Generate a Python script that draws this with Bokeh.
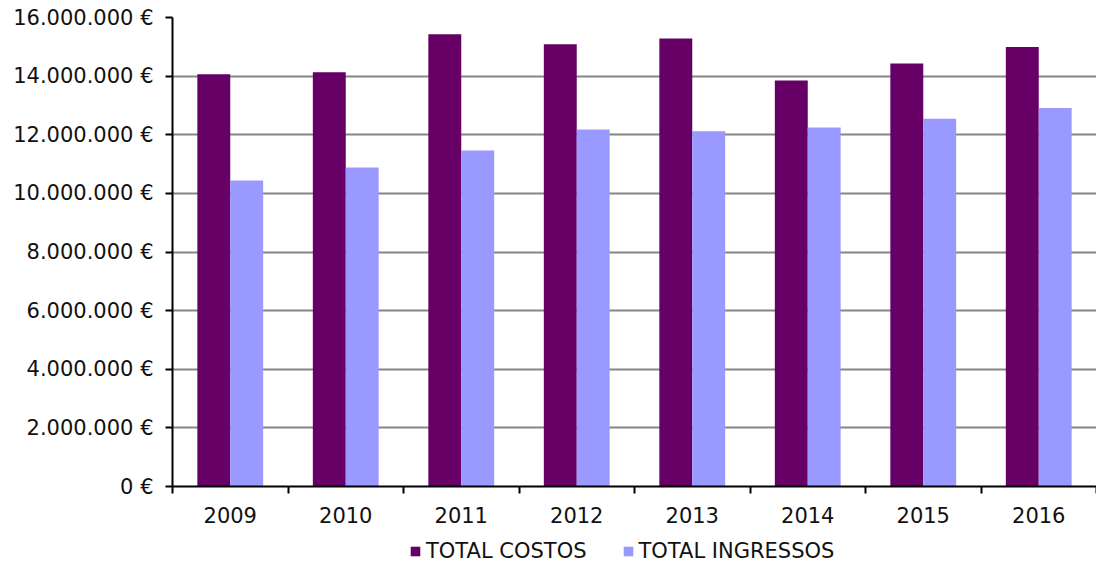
from bokeh.plotting import figure
from bokeh.layouts import column
from bokeh.models import (ColumnDataSource, FixedTicker, CustomJSTickFormatter, Legend,
                          LegendItem, Range1d)
from bokeh.transform import dodge
from bokeh.embed import file_html
from bokeh.resources import INLINE

years = ["2009", "2010", "2011", "2012", "2013", "2014", "2015", "2016"]
costos = [14060000, 14130000, 15430000, 15090000, 15280000, 13850000, 14430000, 14990000]
ingressos = [10440000, 10880000, 11460000, 12180000, 12120000, 12250000, 12550000, 12910000]
series_names = ["TOTAL COSTOS", "TOTAL INGRESSOS"]
colors = ["#660066", "#9999FF"]
y_ticks = [0, 2000000, 4000000, 6000000, 8000000, 10000000, 12000000, 14000000, 16000000]

FONT = "DejaVu Sans"
FS = "21px"
n = len(years)
centers = [i + 0.5 for i in range(n)]
bounds = [float(i) for i in range(n + 1)]

src = ColumnDataSource(dict(x=centers, year=years, costos=costos, ingressos=ingressos))

p = figure(width=1096, height=538, output_backend="svg", toolbar_location=None,
           x_range=Range1d(0, n), y_range=Range1d(0, 16000000),
           min_border_left=172, min_border_right=0, min_border_top=17, min_border_bottom=52)
p.outline_line_color = None
p.background_fill_color = "white"
p.border_fill_color = "white"

bw = 0.285
p.vbar(x=dodge("x", -bw / 2), top="costos", width=bw, source=src,
       fill_color=colors[0], line_color=None)
p.vbar(x=dodge("x", bw / 2), top="ingressos", width=bw, source=src,
       fill_color=colors[1], line_color=None)

# grid
p.xgrid.grid_line_color = None
p.ygrid.grid_line_color = "#868686"
p.ygrid.grid_line_width = 2
p.ygrid.ticker = FixedTicker(ticks=y_ticks)

# y axis
ya = p.yaxis[0]
ya.ticker = FixedTicker(ticks=y_ticks)
ya.formatter = CustomJSTickFormatter(code="""
return Math.round(tick).toString().replace(/\\B(?=(\\d{3})+(?!\\d))/g, '.') + ' \u20ac';
""")
ya.axis_line_color = "black"
ya.axis_line_width = 2
ya.major_tick_out = 7
ya.major_tick_in = 0
ya.major_tick_line_width = 2
ya.minor_tick_line_color = None
ya.major_label_text_font = FONT
ya.major_label_text_font_size = FS
ya.major_label_text_color = "#111111"
ya.major_label_standoff = 12

# x axis
xa = p.xaxis[0]
xa.ticker = FixedTicker(ticks=centers, minor_ticks=bounds)
xa.formatter = CustomJSTickFormatter(args=dict(labels=years),
                                     code="return labels[Math.floor(tick)];")
xa.axis_line_color = "black"
xa.axis_line_width = 2
xa.major_tick_out = 0
xa.major_tick_in = 0
xa.minor_tick_out = 7
xa.minor_tick_in = 0
xa.minor_tick_line_width = 2
xa.minor_tick_line_color = "black"
xa.major_label_text_font = FONT
xa.major_label_text_font_size = FS
xa.major_label_text_color = "#111111"
xa.major_label_standoff = 13

# legend strip (hidden renderers; only the legend is shown)
p2 = figure(width=1096, height=25, output_backend="svg", toolbar_location=None,
            x_range=Range1d(0, n), y_range=Range1d(0, 16000000),
            min_border_left=0, min_border_right=0, min_border_top=0, min_border_bottom=0)
p2.axis.visible = False
p2.grid.grid_line_color = None
p2.outline_line_color = None
lr1 = p2.vbar(x="x", top="costos", width=bw, source=src, fill_color=colors[0], line_color=None)
lr2 = p2.vbar(x="x", top="ingressos", width=bw, source=src, fill_color=colors[1], line_color=None)
lr1.visible = False
lr2.visible = False

legend = Legend(items=[LegendItem(label=series_names[0], renderers=[lr1]),
                       LegendItem(label=series_names[1], renderers=[lr2])],
                orientation="horizontal", location=(237, 0))
legend.label_text_font = FONT
legend.label_text_font_size = FS
legend.label_text_color = "#111111"
legend.glyph_width = 12
legend.glyph_height = 12
legend.label_standoff = 5
legend.spacing = 35
legend.padding = 0
legend.margin = 0
legend.border_line_color = None
legend.background_fill_alpha = 0
legend.inactive_fill_alpha = 0
p2.add_layout(legend, "center")

open("out.html", "w").write(file_html(column(p, p2, spacing=0), INLINE))
